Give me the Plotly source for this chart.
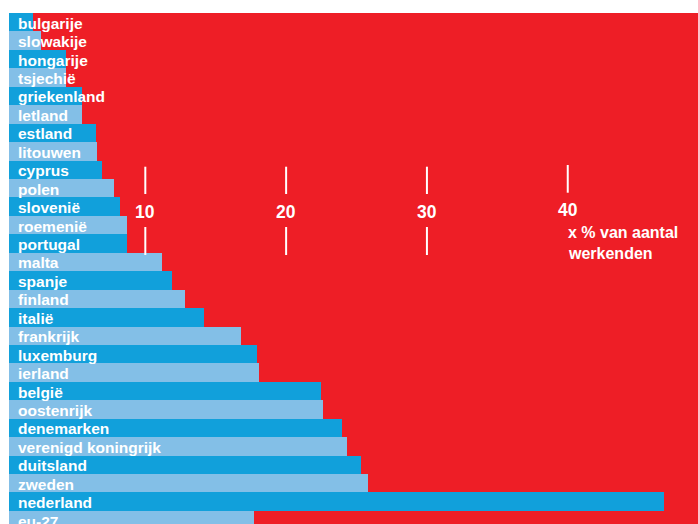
import plotly.graph_objects as go

countries = ["bulgarije", "slowakije", "hongarije", "tsjechië", "griekenland", "letland",
             "estland", "litouwen", "cyprus", "polen", "slovenië", "roemenië", "portugal",
             "malta", "spanje", "finland", "italië", "frankrijk", "luxemburg", "ierland",
             "belgië", "oostenrijk", "denemarken", "verenigd koningrijk", "duitsland",
             "zweden", "nederland", "eu-27"]
values = [2.0, 2.6, 4.4, 4.4, 5.5, 5.5, 6.5, 6.6, 6.9, 7.8, 8.2, 8.7, 8.7,
          11.2, 11.9, 12.8, 14.2, 16.8, 17.9, 18.1, 22.5, 22.6, 24.0, 24.3, 25.3,
          25.8, 46.8, 17.7]
tick_values = [10, 20, 30, 40]
unit_label = ["x % van aantal", "werkenden"]

RED = "#ee1e26"
DARK = "#11a0db"
LIGHT = "#83bfe7"
FONT = "Liberation Sans, Arial, sans-serif"

colors = [DARK if i % 2 == 0 else LIGHT for i in range(len(countries))]

fig = go.Figure()
fig.add_trace(go.Bar(
    x=values, y=countries, orientation="h", base=0,
    marker=dict(color=colors, line=dict(width=0)),
    hoverinfo="x+y",
))

annotations = []
for c in countries:
    annotations.append(dict(
        x=0.013, xref="paper", y=c, yref="y", xanchor="left", yanchor="middle",
        text="<b>" + c + "</b>", showarrow=False, yshift=-1, xshift=-2,
        font=dict(family=FONT, size=15.5, color="white"),
    ))

shapes = []
for t in tick_values:
    if t != 40:
        annotations.append(dict(
            x=t, xref="x", y=0.6115, yref="paper", xanchor="center", yanchor="middle",
            text="<b>%d</b>" % t, showarrow=False,
            font=dict(family=FONT, size=17.5, color="white"),
        ))
        shapes.append(dict(type="line", xref="x", yref="paper", x0=t, x1=t,
                           y0=0.6458, y1=0.6992, line=dict(color="white", width=2)))
        shapes.append(dict(type="line", xref="x", yref="paper", x0=t, x1=t,
                           y0=0.5264, y1=0.5812, line=dict(color="white", width=2)))
    else:
        annotations.append(dict(
            x=t, xref="x", y=0.6145, yref="paper", xanchor="center", yanchor="middle",
            text="<b>%d</b>" % t, showarrow=False,
            font=dict(family=FONT, size=17.5, color="white"),
        ))
        shapes.append(dict(type="line", xref="x", yref="paper", x0=t, x1=t,
                           y0=0.6483, y1=0.7025, line=dict(color="white", width=2)))
        annotations.append(dict(
            x=t, xref="x", y=0.5695, yref="paper", xanchor="left", yanchor="middle",
            text="<b>" + unit_label[0] + "</b>", showarrow=False, xshift=-2,
            font=dict(family=FONT, size=16, color="white"),
        ))
        annotations.append(dict(
            x=t, xref="x", y=0.5303, yref="paper", xanchor="left", yanchor="middle",
            text="<b>" + unit_label[1] + "</b>", showarrow=False, xshift=-2,
            font=dict(family=FONT, size=16, color="white"),
        ))

fig.update_layout(
    width=698, height=524,
    margin=dict(l=9, r=0, t=13, b=0, pad=0),
    paper_bgcolor="white", plot_bgcolor=RED,
    bargap=0, showlegend=False,
    xaxis=dict(range=[0.32, 49.25], showgrid=False, zeroline=False,
               showticklabels=False, ticks="", fixedrange=True),
    yaxis=dict(type="category", categoryorder="array", categoryarray=countries,
               range=[27.21, -0.5], showgrid=False, zeroline=False,
               showticklabels=False, ticks="", fixedrange=True),
    annotations=annotations, shapes=shapes,
)

fig.write_html(
    "out.html",
    config={"displayModeBar": False},
    post_script="document.body.style.margin='0';"
                "document.documentElement.style.overflow='hidden';"
                "document.body.style.overflow='hidden';",
)
